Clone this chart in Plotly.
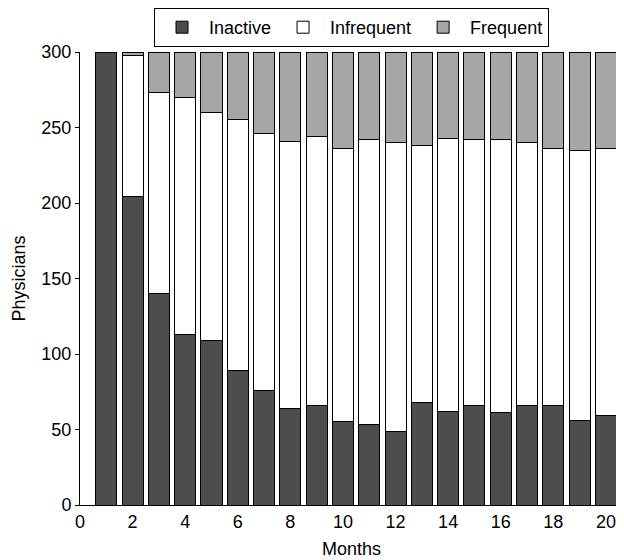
import plotly.graph_objects as go

months = list(range(1, 21))
inactive = [300, 204, 140, 113, 109, 89, 76, 64, 66, 55, 53, 49, 68, 62, 66, 61, 66, 66, 56, 59]
infrequent = [0, 94, 133, 157, 151, 166, 170, 177, 178, 181, 189, 191, 170, 181, 176, 181, 174, 170, 179, 177]
frequent = [0, 2, 27, 30, 40, 45, 54, 59, 56, 64, 58, 60, 62, 57, 58, 58, 60, 64, 65, 64]

series = [("Inactive", inactive, "#4d4d4d"),
          ("Infrequent", infrequent, "#ffffff"),
          ("Frequent", frequent, "#a6a6a6")]

fig = go.Figure()
for name, vals, col in series:
    fig.add_trace(go.Bar(x=months, y=vals, name=name, width=0.8,
                         marker=dict(color=col, line=dict(color="black", width=1))))

FONT = "Liberation Sans, Arial, sans-serif"
fig.update_layout(
    width=624, height=560,
    barmode="stack",
    plot_bgcolor="white", paper_bgcolor="white",
    font=dict(family=FONT, size=18, color="black"),
    margin=dict(l=72, r=9, t=44, b=63, autoexpand=False),
    showlegend=True,
    legend=dict(orientation="h", x=0.5, xanchor="center", xref="paper",
                y=1.0, yanchor="top", yref="container",
                bordercolor="black", borderwidth=1, font=dict(family=FONT, size=18),
                traceorder="normal", tracegroupgap=0, itemwidth=44),
    xaxis=dict(range=[0, 20.65], tickmode="array", tickvals=list(range(0, 21, 2)),
               showline=True, linecolor="black", linewidth=1, ticks="", showgrid=False,
               zeroline=False, automargin=False, tickfont=dict(family=FONT, size=18),
               title=dict(text="Months", standoff=11, font=dict(family=FONT, size=18))),
    yaxis=dict(range=[0, 300], tickvals=list(range(0, 301, 50)),
               showline=True, linecolor="black", linewidth=1, ticks="outside", ticklen=4,
               tickcolor="black", showgrid=False, zeroline=False, automargin=False,
               tickfont=dict(family=FONT, size=18),
               title=dict(text="Physicians", standoff=11, font=dict(family=FONT, size=18))),
)

fig.write_html("out.html")
